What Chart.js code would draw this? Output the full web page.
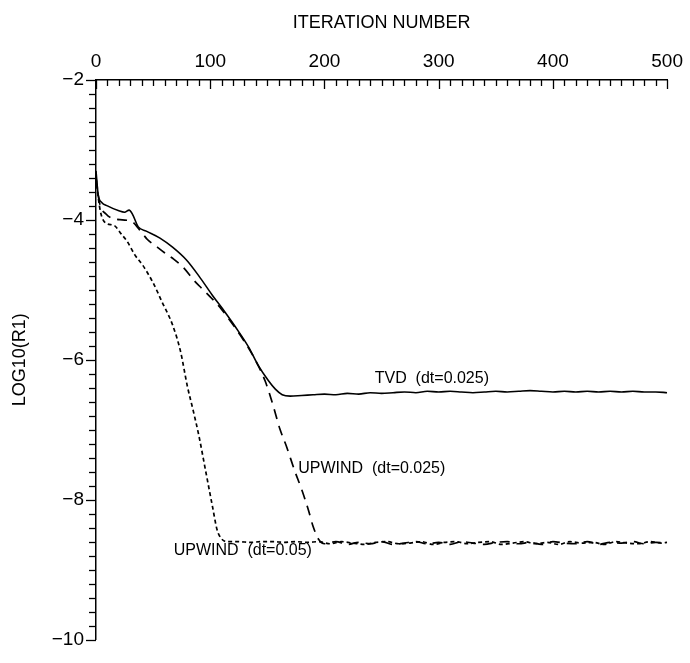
<!DOCTYPE html>
<html>
<head>
<meta charset="utf-8">
<title>Residual history</title>
<script src="https://cdn.jsdelivr.net/npm/chart.js@4.4.1/dist/chart.umd.min.js"></script>
<style>
    html, body { margin: 0; padding: 0; background: #fff; }
    canvas { display: block; }
</style>
</head>
<body>
<canvas id="residualChart" width="690" height="663"></canvas>
<script>
// Axis ranges and tick spacing
const xRange = [0, 500];
const yRange = [-10, -2];
const xStep = 10;
const yStep = 0.2;

// TVD (dt=0.025)
const tvdIter = [0, 2, 5, 10, 20, 25, 29, 32, 37, 44, 56, 67, 79, 90, 102, 113, 125, 134, 142, 151, 157, 163, 170,
    180, 190, 200, 210, 220, 230, 240, 250, 260, 270, 280, 290, 300, 310, 320, 330, 340, 350, 360, 370, 380,
    390, 400, 410, 420, 430, 440, 450, 460, 470, 480, 490, 500];
const tvdLog = [-3.3, -3.65, -3.75, -3.8, -3.87, -3.89, -3.86, -3.92, -4.1, -4.16, -4.26, -4.39, -4.57, -4.8, -5.08,
    -5.32, -5.6, -5.83, -6.08, -6.3, -6.42, -6.5, -6.52,
    -6.51, -6.5, -6.49, -6.5, -6.48, -6.49, -6.47, -6.48, -6.47, -6.46, -6.47, -6.45, -6.46, -6.45, -6.46,
    -6.47, -6.46, -6.45, -6.46, -6.45, -6.44, -6.45, -6.46, -6.45, -6.46, -6.45, -6.46, -6.45, -6.46, -6.45,
    -6.46, -6.46, -6.47];

// UPWIND (dt=0.025)
const upw025Iter = [0, 3, 9, 15, 23, 31, 38, 45, 52, 60, 68, 77, 85, 92, 100, 110, 120, 130, 140, 148, 155, 161,
    167, 174, 180, 186, 190, 195, 200, 210, 220, 230, 240, 250, 260, 270, 280, 290, 300, 310, 320, 330, 340,
    350, 360, 370, 380, 390, 400, 410, 420, 430, 440, 450, 460, 470, 480, 490, 500];
const upw025Log = [-3.4, -3.75, -3.92, -3.98, -4.0, -4.02, -4.14, -4.28, -4.37, -4.47, -4.56, -4.69, -4.85, -4.97,
    -5.1, -5.28, -5.5, -5.74, -6.02, -6.3, -6.65, -6.99, -7.25, -7.59, -7.85, -8.15, -8.38, -8.57, -8.63,
    -8.6, -8.64, -8.61, -8.63, -8.6, -8.64, -8.62, -8.6, -8.63, -8.61, -8.64, -8.6, -8.62, -8.64, -8.61,
    -8.6, -8.63, -8.61, -8.64, -8.6, -8.62, -8.63, -8.6, -8.64, -8.61, -8.62, -8.6, -8.63, -8.61, -8.62];

// UPWIND (dt=0.05)
const upw05Iter = [0, 3, 5, 9, 16, 22, 27, 34, 41, 50, 58, 67, 74, 80, 85, 90, 96, 102, 106, 110, 115, 125, 135,
    145, 155, 165, 175, 185, 195, 205, 215, 225, 235, 245, 255, 265, 275, 285, 295, 305, 315, 325, 335, 345,
    355, 365, 375, 385, 395, 405, 415, 425, 435, 445, 455, 465, 475, 485, 495, 500];
const upw05Log = [-3.4, -3.8, -3.95, -4.05, -4.08, -4.2, -4.3, -4.5, -4.65, -4.9, -5.18, -5.5, -5.88, -6.38, -6.72,
    -7.08, -7.59, -8.1, -8.43, -8.56, -8.6, -8.6, -8.61, -8.6, -8.6, -8.61, -8.6, -8.61, -8.6, -8.63, -8.6,
    -8.62, -8.64, -8.61, -8.6, -8.63, -8.62, -8.6, -8.64, -8.61, -8.6, -8.63, -8.61, -8.6, -8.64, -8.62,
    -8.6, -8.63, -8.61, -8.64, -8.6, -8.62, -8.61, -8.64, -8.6, -8.62, -8.63, -8.6, -8.62, -8.61];

// Curve annotations: text, start iteration, log value at text middle
const curveLabels = [
    { text: 'TVD  (dt=0.025)', x: 244, y: -6.27 },
    { text: 'UPWIND  (dt=0.025)', x: 177, y: -7.55 },
    { text: 'UPWIND  (dt=0.05)', x: 68, y: -8.73 }
];

const FONT = "'Liberation Sans', Arial, sans-serif";

const toPoints = (xs, ys) => xs.map((x, i) => ({ x: x, y: ys[i] }));

const isMajorX = (v) => Math.round(v) % 100 === 0;
const isMajorY = (v) => Math.round(v * 10) % 20 === 0;

// Tick marks: x ticks hang into the plot, y ticks point outwards
const tickMarks = {
    id: 'tickMarks',
    afterDraw(chart) {
        const { ctx, scales: { x, y } } = chart;
        ctx.save();
        ctx.strokeStyle = '#000';
        ctx.lineWidth = 1.3;
        x.ticks.forEach(t => {
            const px = Math.round(x.getPixelForValue(t.value)) + 0.5;
            const len = isMajorX(t.value) ? 9 : 6;
            ctx.beginPath();
            ctx.moveTo(px, x.bottom);
            ctx.lineTo(px, x.bottom + len);
            ctx.stroke();
        });
        y.ticks.forEach(t => {
            const py = Math.round(y.getPixelForValue(t.value)) + 0.5;
            const len = isMajorY(t.value) ? 10 : 7;
            ctx.beginPath();
            ctx.moveTo(y.right, py);
            ctx.lineTo(y.right - len, py);
            ctx.stroke();
        });
        ctx.restore();
    }
};

// Text next to each curve
const curveText = {
    id: 'curveText',
    afterDatasetsDraw(chart) {
        const { ctx, scales: { x, y } } = chart;
        ctx.save();
        ctx.fillStyle = '#000';
        ctx.font = `16px ${FONT}`;
        ctx.textAlign = 'left';
        ctx.textBaseline = 'middle';
        curveLabels.forEach(l => {
            ctx.fillText(l.text, x.getPixelForValue(l.x), y.getPixelForValue(l.y));
        });
        ctx.restore();
    }
};

const baseLine = {
    borderColor: '#000',
    backgroundColor: '#000',
    pointRadius: 0,
    fill: false,
    cubicInterpolationMode: 'monotone'
};

new Chart(document.getElementById('residualChart'), {
    type: 'line',
    data: {
        datasets: [
            { ...baseLine, label: 'TVD (dt=0.025)', data: toPoints(tvdIter, tvdLog), borderWidth: 1.6 },
            { ...baseLine, label: 'UPWIND (dt=0.025)', data: toPoints(upw025Iter, upw025Log), borderWidth: 1.7, borderDash: [10, 7] },
            { ...baseLine, label: 'UPWIND (dt=0.05)', data: toPoints(upw05Iter, upw05Log), borderWidth: 1.7, borderDash: [4, 3] }
        ]
    },
    options: {
        responsive: false,
        animation: false,
        devicePixelRatio: 1,
        layout: {
            padding: { left: 0, top: 0, right: 18, bottom: 10 }
        },
        plugins: {
            legend: { display: false },
            tooltip: { enabled: false }
        },
        scales: {
            x: {
                type: 'linear',
                position: 'top',
                min: xRange[0],
                max: xRange[1],
                afterFit: (s) => { s.height = 80; },
                grid: { display: false, drawTicks: false },
                border: { display: true, color: '#000', width: 1.5 },
                ticks: {
                    stepSize: xStep,
                    autoSkip: false,
                    maxRotation: 0,
                    maxTicksLimit: 100,
                    padding: 7,
                    color: '#000',
                    font: { family: FONT, size: 19 },
                    callback: (v) => isMajorX(v) ? String(Math.round(v)) : ''
                },
                title: {
                    display: true,
                    text: 'ITERATION NUMBER',
                    color: '#000',
                    font: { family: FONT, size: 18 },
                    padding: { top: 12, bottom: 0 }
                }
            },
            y: {
                type: 'linear',
                position: 'left',
                min: yRange[0],
                max: yRange[1],
                afterFit: (s) => { s.width = 96; },
                grid: { display: false, drawTicks: false },
                border: { display: true, color: '#000', width: 1.5 },
                ticks: {
                    stepSize: yStep,
                    autoSkip: false,
                    maxTicksLimit: 100,
                    padding: 12,
                    color: '#000',
                    font: { family: FONT, size: 19 },
                    callback: (v) => isMajorY(v) ? String(Math.round(v)).replace('-', '\u2212') : ''
                },
                title: {
                    display: true,
                    text: 'LOG10(R1)',
                    color: '#000',
                    font: { family: FONT, size: 18 },
                    padding: { top: 9, bottom: 0 }
                }
            }
        }
    },
    plugins: [tickMarks, curveText]
});
</script>
</body>
</html>
